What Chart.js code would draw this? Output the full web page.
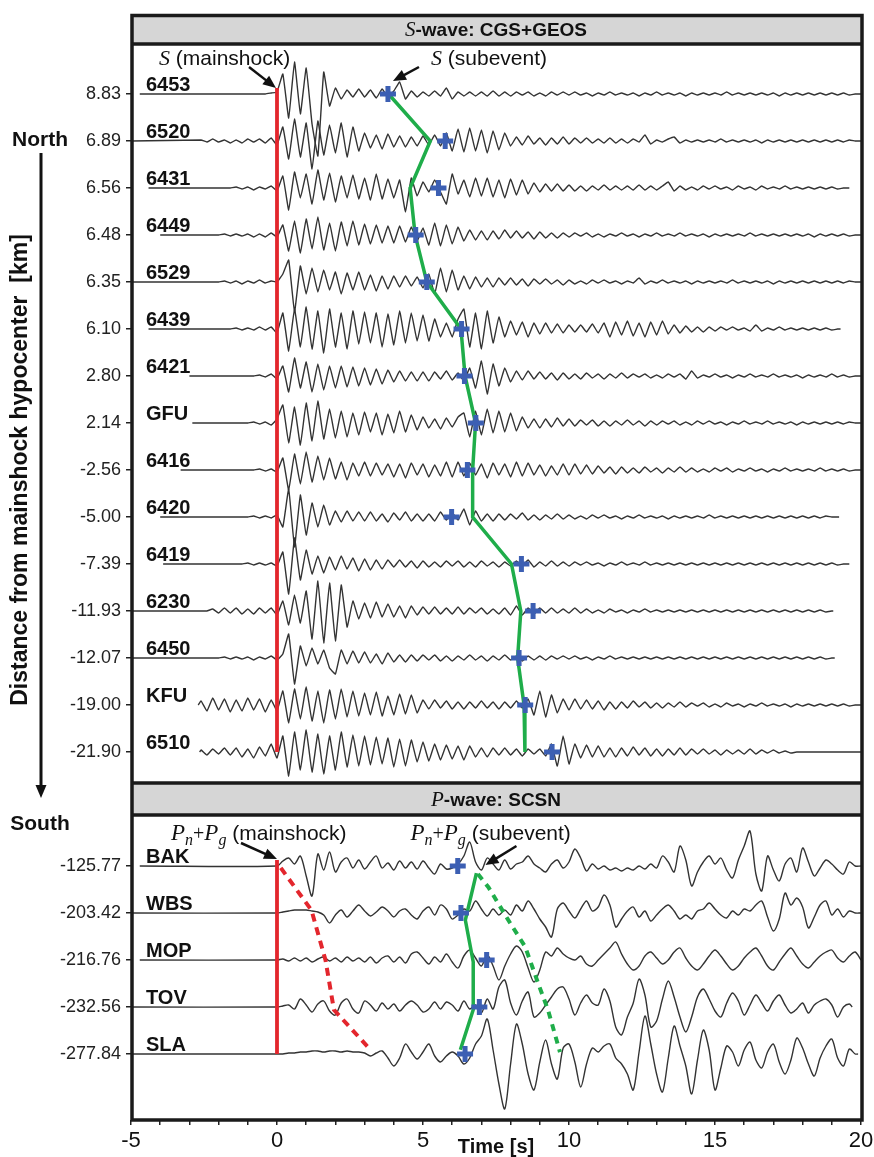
<!DOCTYPE html>
<html>
<head>
<meta charset="utf-8">
<script src="https://cdn.jsdelivr.net/npm/chart.js@4.4.0/dist/chart.umd.min.js"></script>
<style>
  html, body { margin: 0; padding: 0; background: #fff; }
  #wrap { width: 874px; height: 1157px; position: relative; }
</style>
</head>
<body>
<div id="wrap"><canvas id="seis" width="874" height="1157"></canvas></div>
<script>
// stations, north to south, and distance from mainshock hypocenter [km]
var stationsS = ['6453', '6520', '6431', '6449', '6529', '6439', '6421', 'GFU', '6416', '6420', '6419', '6230', '6450', 'KFU', '6510'];
var distS = ['8.83', '6.89', '6.56', '6.48', '6.35', '6.10', '2.80', '2.14', '-2.56', '-5.00', '-7.39', '-11.93', '-12.07', '-19.00', '-21.90'];
var stationsP = ['BAK', 'WBS', 'MOP', 'TOV', 'SLA'];
var distP = ['-125.77', '-203.42', '-216.76', '-232.56', '-277.84'];

// picks [s]
var pickS = [3.8, 5.76, 5.53, 4.75, 5.13, 6.32, 6.42, 6.81, 6.52, 5.98, 8.37, 8.77, 8.29, 8.5, 9.42];
var lineS = [3.82, 5.25, 4.56, 4.73, 5.13, 6.3, 6.44, 6.8, 6.7, 6.7, 8.03, 8.35, 8.24, 8.46, 8.49];
var pickP = [6.19, 6.3, 7.18, 6.93, 6.44];
var lineP = [6.83, 6.45, 6.72, 6.72, 6.28];
var linePRow = [0.15, 1.15, 2.04, 3.06, 3.91];
var dashGreenT = [6.88, 7.24, 7.92, 8.5, 8.94, 9.28, 9.69];
var dashGreenRow = [0.17, 0.45, 1.15, 1.72, 2.49, 3.06, 3.96];
var dashRedT = [0.13, 1.18, 1.66, 1.95, 3.2];
var dashRedRow = [0.04, 0.94, 2.0, 3.06, 3.91];

// trace extents [s]
var startS = [-4.7, -5.0, -4.4, -4.0, -5.0, -4.4, -3.0, -2.9, -3.3, -4.0, -3.9, -5.0, -5.0, -2.7, -2.65];
var endS = [20, 20, 19.6, 20, 20, 19.3, 20, 20, 20, 19.25, 19.6, 19.05, 19.1, 20, 20];
var startP = [-4.7, -5.0, -4.7, -5.0, -5.0];
var endP = [20, 20, 20, 19.7, 19.9];

// S-wave amplitudes, every 0.2 s from -2.6 s
var w6453 = [0,0,0,0,0,0,0,0,0,0,0,0,1, 2,20,-24,32,-20, 26,-30,-62,22,-12, 6,-5,4,-3,5, -3,4,-4,5,-3, 3,12,-5,3,-3, 2,-2,3,-2,6, -5,2,-2,2,-2, 2,-2,3,-2,2, -2,2,-1,2,-2, 1,-2,2,-1,2, -1,2,-1,1,-2, 1,-1,2,-1,1, -1,1,-2,1,-1, 2,-1,1,-1,1, -2,1,-1,1,-1, 1,-1,2,-1,1, -1,1,-1,1,-1, 1,-2,1,-1,1, -1,1,-1,1,-1, 1,-1,1,-1,0];
var w6520 = [1,-1,2,-1,1,-2,1,-2,2,-1,2,-2,3, -4,14,-18,22,-16, 18,-28,20,-14,16, -12,18,-16,14,-10, 8,-7,6,-8,7, -6,5,-6,4,-5, 5,-4,6,-5,8, -10,12,-11,13,-10, 11,-12,10,-9,8, -5,4,-4,5,-3, 3,-4,3,-3,4, -3,3,-2,3,-2, 2,-2,3,-2,2, -2,2,-1,6,-3, 1,-1,2,4,-2, 1,-1,1,-1,1, -1,2,-1,1,-1, 1,-1,1,-2,1, -1,1,-1,1,-1, 1,-1,1,-1,1, -1,1,-1,1,0];
var w6431 = [0,0,0,0,0,0,1,-1,1,-2,1,-1,2, -3,12,-22,16,-10, 14,-16,18,-12,15, -14,12,-10,13,-11, 10,-12,14,-11,9, -10,8,-24,10,-8, 6,-4,8,-4,-16, 14,-6,8,-9,10, -8,10,-9,8,-10, 9,-7,8,-6,5, -4,4,-3,4,-3, 3,-3,2,-3,2, -2,3,-2,2,-2, 2,-2,3,-2,2, -2,2,6,-3,2, -2,1,-2,2,-1, 2,-1,1,-2,2, -1,1,-2,2,-1, 1,-1,2,-1,1, -1,1,-1,1,-1, 1,-1,0];
var w6449 = [0,0,0,0,1,-1,1,-1,1,-2,1,-2,2, -2,10,-16,14,-18, 16,-14,18,-15,12, -16,13,-11,14,-10, 11,-9,10,-8,9, -8,9,-7,8,-6, 7,-10,12,-11,10, -9,8,-6,5,-5, 4,-5,4,-4,5, -3,4,-3,3,-4, 3,-3,2,-3,2, -2,2,-1,2,-2, 1,-2,1,-1,2, -1,1,-2,1,-1, 2,-1,1,-1,2, -1,1,-1,1,-2, 1,-1,1,-1,1, -1,2,-1,1,-1, 1,-1,1,-1,1, -1,1,-2,1,-1, 1,-1,1,-1,0];
var w6529 = [0,0,0,0,1,-1,1,-2,1,-1,2,-1,1, 0,8,22,-30,16, -12,14,-10,12,-8, 10,-12,9,-8,10, -8,7,-9,6,-7, 6,-5,6,-4,5, -6,8,-12,14,-10, 12,-8,6,-7,5, -5,4,-5,4,-3, 4,-3,3,-4,3, -2,3,-2,2,-3, 2,-2,1,-2,2, -1,2,-1,1,-2, 1,-1,4,-2,1, -1,2,-1,1,-1, 1,-2,1,-1,1, -1,1,-1,2,-1, 1,-1,1,-1,1, -2,1,-1,1,-1, 1,-1,1,-1,1, -1,1,-1,1,0];
var w6439 = [0,0,0,0,0,0,1,-1,1,-1,2,-1,2, -4,16,-22,20,-18, 22,-20,18,-24,20, -18,16,-20,18,-15, 17,-14,16,-18,15, -16,18,-14,16,-12, 14,-12,10,-8,6, -8,10,20,-18,16, -20,18,-14,12,-8, 8,-6,7,-8,6, -5,6,-4,5,-4, 4,-3,4,-3,5, -4,6,-8,7,-6, 8,-7,6,-8,7, -6,8,-5,4,-4, 3,-3,2,-3,2, -2,2,-1,2,-1, 1,-2,4,-2,1, -1,2,-1,1,-1, 1,-1,1,-1,1, -1,0];
var w6421 = [0,0,0,0,0,0,0,0,0,0,1,-1,2, -3,10,-16,18,-12, 14,-16,12,-14,10, -12,10,-11,9,-10, 8,-9,7,-8,6, -6,5,-5,4,-5, 4,-5,4,-3,5, -4,3,-5,8,-12, 15,-18,12,-10,8, -6,5,-4,5,-3, 4,-3,3,-4,3, -3,2,-3,3,-2, 2,-3,2,-2,3, -2,2,-1,2,-2, 1,-2,2,-1,2, -3,5,-2,1,-1, 2,-1,1,-2,1, -1,2,-1,1,-1, 2,-1,1,-1,1, -2,1,-1,1,-1, 2,-1,1,-1,0];
var wGFU = [0,0,0,0,0,0,0,0,0,1,-1,1,-2, 4,18,-20,16,-22, 20,-18,22,-16,14, -15,12,-14,10,-12, 11,-9,10,-12,9, -10,12,-9,8,-7, 6,-5,4,-6,5, -4,6,10,-14,12, -12,14,-10,12,-9, 10,-8,6,-5,4, -5,4,-4,5,-3, 4,-3,3,-2,3, -3,2,-3,2,-2, 3,-2,2,-3,2, -2,2,-1,2,-2, 1,-2,2,-1,2, -1,1,-2,1,-1, 2,-1,1,-1,2, -1,1,-1,1,-2, 1,-1,1,-1,1, -1,1,-1,1,0];
var w6416 = [0,0,0,0,0,0,0,0,0,0,1,-1,1, -2,12,-20,16,-14, 18,-12,14,-10,12, -9,8,-10,7,-6, 8,-6,7,-5,6, -7,6,-8,7,-5, 6,-7,5,-6,8, -7,8,-6,7,-5, 6,-8,7,-5,6, -7,8,-6,7,-5, 5,-6,4,-5,6, -5,6,-4,5,-4, 4,-3,3,-4,3, -3,2,-3,3,-2, 2,-3,2,-2,3, -2,2,-2,1,-2, 2,-1,2,-2,1, -1,2,-1,1,-2, 1,-1,2,-1,1, -1,1,-1,2,-1, 1,-1,1,-1,0];
var w6420 = [0,0,0,0,0,0,0,0,0,1,-1,1,-1, 2,-10,28,-30,22, -18,14,-10,12,-8, 6,-5,6,-4,5, -4,5,-4,3,-5, 4,-3,5,-4,3, -4,3,-4,5,-3, 4,-3,8,-8,6, -4,3,-4,3,-3, 3,-2,4,-3,2, -3,2,-2,3,-2, 2,-2,1,-2,2, -1,2,-1,1,-2, 1,-1,2,-1,1, -1,1,-2,1,-1, 1,-1,1,-1,2, -1,1,-1,1,-1, 1,-1,1,-1,1, -1,1,-1,1,-1, 1,-1,1,-1,1, 0];
var w6419 = [0,0,0,0,0,0,0,0,1,-1,1,-1,1, -2,12,-30,26,-16, 14,-10,8,-9,7, -6,8,-5,6,-7, 5,-6,4,-5,4, -3,4,-3,3,-4, 3,-3,2,-3,3, -2,3,-3,2,-3, 3,-2,2,-3,2, -2,3,-2,4,-3, 2,-2,3,-2,2, -2,2,-1,2,-1, 1,-2,1,-1,2, -1,1,-1,2,-1, 1,-1,1,-1,1, -1,1,-1,1,-1, 1,-1,1,-1,1, -1,1,-1,1,-1, 1,-1,1,-1,1, -1,1,-1,1,-1, 1,-1,0];
var w6230 = [0,0,2,-2,3,-2,3,-3,2,-3,3,-2,3, -4,10,-14,16,-12, 20,-28,30,-32,28, -30,26,-16,10,-8, 8,-7,9,-6,7, -6,5,-7,5,-4, 4,-3,4,-3,3, -3,4,-3,3,-2, 3,-3,2,-3,3, -4,5,-4,3,-3, 3,-2,3,-2,2, -2,3,-2,2,-2, 1,-2,2,-1,1, -2,1,-1,2,-1, 1,-1,1,-1,1, -1,1,-1,1,-1, 1,-1,1,-1,1, -1,1,-1,1,-1, 1,-1,1,-1,1, -1,1,-1,1,-1, 0];
var w6450 = [0,0,0,0,1,-1,1,-1,1,-2,1,-1,2, -2,4,24,-26,12, -8,10,-6,8,-10, -16,8,-6,7,-5, 6,-5,4,-6,5, -4,3,-4,3,-3, 3,-2,3,-3,2, -3,2,-2,3,-2, 2,-3,2,-2,3, -2,2,-3,2,-2, 2,-2,2,-1,2, -1,2,-1,1,-2, 1,-1,2,-1,1, -1,1,-1,1,-1, 1,-1,1,-1,1, -1,1,-1,1,-1, 1,-1,1,-1,1, -1,1,-1,1,-1, 1,-1,1,-1,1, -1,1,-1,1,-1, 0];
var wKFU = [4,-6,7,-5,6,-7,5,-6,7,-5,6,-7,5, -6,14,-18,16,-14, 18,-16,14,-18,15, -14,16,-12,14,-11, 12,-10,13,-11,9, -10,11,-9,10,-8, 5,-4,5,-3,4, -4,3,-4,3,-3, 4,-3,3,-4,3, -3,4,-3,6,-10, 14,-12,10,-8,6, -5,6,-4,5,-4, 4,-5,3,-4,3, -3,4,-2,3,-3, 2,-3,2,-2,3, -2,2,-1,2,-2, 1,-2,2,-1,1, -2,1,-1,2,-1, 1,-1,1,-2,1, -1,1,-1,1,-1, 1,-1,1,-1,0];
var w6510 = [2,-3,3,-2,4,-3,4,-5,3,-6,5,-4,8, -6,16,-24,20,-18, 22,-20,18,-22,16, -18,20,-15,17,-14, 16,-13,15,-12,14, -15,13,-14,12,-10, 10,-9,8,-8,7, -7,6,-8,6,-5, 4,-5,4,-3,4, -3,3,-4,3,-2, 3,-4,8,-14,16, -12,8,-6,7,-5, 6,-5,4,-5,4, -4,5,-3,4,-4, 3,-4,3,-3,4, -3,3,-2,3,-2, 2,-3,2,-2,2, -2,3,-2,2,-1, 2,-1,1,-1,0];

// P-wave amplitudes, every 0.2 s from 0 s
var wBAK = [0,5,8,2,10, -10,-30,12,-4,14, -6,4,8,-2,6, -3,4,10,-2,3, -4,5,-2,4,-3, 5,-2,-8,2,-3, -2,2,10,24,4, -4,8,2,-4,6, -3,2,4,10,2, -2,-6,2,6,-2, 4,17,8,-5,2, -3,0,-4,-2,-5, -2,-4,0,-3,2, -2,10,4,-6,20, 6,-20,-6,4,10, 2,8,-4,-12,6, 20,35,-8,-25,10, -4,-15,2,8,-6, 18,4,-10,-2,6, 2,-4,-8,4,0];
var wWBS = [0,1,2,3,3, 3,2,1,-2,-10, -2,3,-4,2,8, 2,-3,1,6,2, -4,2,4,-2,-6, 2,6,-2,8,4, -6,-2,4,2,12, 4,-3,4,-2,3, -2,8,2,12,4, -6,-14,-24,4,10, 2,-5,4,12,2, 6,18,8,-14,-6, 2,6,-4,2,-8, -2,4,8,2,-6, -2,-6,2,4,10, 4,-2,-5,2,-2, 4,2,8,12,-4, -18,-6,20,8,15, 6,-15,-4,8,12, -2,4,-4,2,0];
var wMOP = [0,1,-1,2,-1, 2,-2,1,3,-1, 2,-2,3,-1,2, -2,3,-3,2,4, -2,3,-3,6,8, 2,-4,3,-2,6, -2,-8,4,10,2, -6,5,-6,-20,-6, 6,14,8,-8,-22, -10,8,4,12,6, 2,0,4,-4,-6, 0,6,12,18,6, -4,-10,-6,4,8, 2,-4,0,8,12, 2,-6,-10,-4,4, 10,4,-4,-10,-6, 2,8,12,4,-6, -10,-2,6,12,4, -4,-8,-2,4,8, 10,2,-2,4,8];
var wTOV = [0,1,2,-2,8, 2,-5,3,6,-4, -8,4,8,-2,-6, 6,2,-4,4,-2, 3,-4,2,6,2, -5,-2,5,-2,5, 2,-4,6,-2,2, -6,8,-2,20,27, 4,-8,6,15,-10, -6,2,10,18,20, 8,-8,4,12,4, 2,18,6,-20,-28, -10,4,28,12,-20, -14,8,26,10,-10, -25,-10,10,18,8, -4,-10,4,14,6, -8,2,12,4,-4, 6,12,2,-6,-2, 4,-6,2,6,8, 2,-10,0,3];
var wSLA = [0,0,1,1,2, 2,3,3,2,3, 3,2,3,2,2, 1,-2,1,3,-4, -12,-4,10,2,-5, 2,10,-2,-8,-2, 2,-2,-10,-4,10, 18,35,4,-30,-55, -10,30,10,-20,-36, -8,14,-10,-25,6, 10,-8,-33,-10,6, 2,8,10,-4,-10, -20,-36,2,38,10, -20,-38,-4,28,8, -12,-40,-6,24,4, -36,-14,8,2,-12, 4,12,-6,-14,2, 10,-8,-20,-6,16, 6,-10,-22,-4,8, 15,-4,-12,5,0];

var wavesS = [w6453, w6520, w6431, w6449, w6529, w6439, w6421, wGFU, w6416, w6420, w6419, w6230, w6450, wKFU, w6510];
var wavesP = [wBAK, wWBS, wMOP, wTOV, wSLA];

var dt = 0.2;
var rowGap = 47;                         // px between trace baselines
var pOffset = (866 - 94) / rowGap;       // first P row, in row units
var yMin = -50 / rowGap, yMax = (1120 - 94) / rowGap;

var sans = '"Liberation Sans", Arial, Helvetica, sans-serif';
var serif = '"Liberation Serif", "Times New Roman", serif';
var red = '#e3262d', green = '#1fad4a', blue = '#3c5fb3', ink = '#333333';

Chart.defaults.font.family = sans;

function traceData(row, start, t0, vals, end) {
    var pts = [{ x: start, y: row }];
    for (var k = 0; k < vals.length; k++) {
        pts.push({ x: t0 + k * dt, y: row - vals[k] / rowGap });
    }
    if (end > t0 + (vals.length - 1) * dt) pts.push({ x: end, y: row });
    return pts;
}

var datasets = [];

// picks
var crosses = [];
pickS.forEach(function (t, i) { crosses.push({ x: t, y: i }); });
pickP.forEach(function (t, j) { crosses.push({ x: t, y: pOffset + j }); });
datasets.push({ data: crosses, showLine: false, pointStyle: 'cross', pointRadius: 8,
    pointBorderWidth: 5, pointBorderColor: blue, borderColor: blue, order: 0 });

// green pick lines
datasets.push({ data: lineS.map(function (t, i) { return { x: t, y: i }; }),
    borderColor: green, borderWidth: 3.5, pointRadius: 0, order: 1 });
datasets.push({ data: lineP.map(function (t, j) { return { x: t, y: pOffset + linePRow[j] }; }),
    borderColor: green, borderWidth: 3.5, pointRadius: 0, order: 1 });
datasets.push({ data: dashGreenT.map(function (t, j) { return { x: t, y: pOffset + dashGreenRow[j] }; }),
    borderColor: green, borderWidth: 4, borderDash: [7, 6], pointRadius: 0, order: 1 });

// mainshock onset
datasets.push({ data: [{ x: 0, y: -0.13 }, { x: 0, y: 14 }], borderColor: red, borderWidth: 3.8, pointRadius: 0, order: 1 });
datasets.push({ data: [{ x: 0, y: pOffset - 0.13 }, { x: 0, y: pOffset + 4 }], borderColor: red, borderWidth: 3.8, pointRadius: 0, order: 1 });
datasets.push({ data: dashRedT.map(function (t, j) { return { x: t, y: pOffset + dashRedRow[j] }; }),
    borderColor: red, borderWidth: 4, borderDash: [8, 6], pointRadius: 0, order: 1 });

// seismograms
wavesS.forEach(function (w, i) {
    datasets.push({ data: traceData(i, startS[i], -2.6, w, endS[i]), borderColor: ink,
        borderWidth: 1.4, pointRadius: 0, tension: 0.1, order: 2 });
});
wavesP.forEach(function (w, j) {
    datasets.push({ data: traceData(pOffset + j, startP[j], 0, w, endP[j]), borderColor: ink,
        borderWidth: 1.4, pointRadius: 0, tension: 0.3, order: 2 });
});

var rowTicks = stationsS.map(function (s, i) { return i; })
    .concat(stationsP.map(function (s, j) { return pOffset + j; }));
var rowLabels = distS.concat(distP);

function drawParts(ctx, parts, x, y, center) {
    var w = 0;
    parts.forEach(function (p) { ctx.font = p.font; w += ctx.measureText(p.text).width; });
    var cx = center ? x - w / 2 : x;
    parts.forEach(function (p) {
        ctx.font = p.font;
        ctx.fillText(p.text, cx, y + (p.dy || 0));
        cx += ctx.measureText(p.text).width;
    });
}

function arrow(ctx, x1, y1, x2, y2) {
    var a = Math.atan2(y2 - y1, x2 - x1), hl = 13, hw = 5.5;
    var c = Math.cos(a), s = Math.sin(a);
    ctx.beginPath();
    ctx.moveTo(x1, y1);
    ctx.lineTo(x2 - hl * 0.8 * c, y2 - hl * 0.8 * s);
    ctx.stroke();
    ctx.beginPath();
    ctx.moveTo(x2, y2);
    ctx.lineTo(x2 - hl * c + hw * s, y2 - hl * s - hw * c);
    ctx.lineTo(x2 - hl * c - hw * s, y2 - hl * s + hw * c);
    ctx.closePath();
    ctx.fill();
}

var decor = {
    id: 'decor',
    afterDatasetsDraw: function (chart) {
        var ctx = chart.ctx, a = chart.chartArea;
        var xs = chart.scales.x, ys = chart.scales.y;
        var L = a.left, R = a.right;
        var split = 783, pHead = 815, sHead = 14;
        ctx.save();

        // header bands
        ctx.fillStyle = '#d6d6d6';
        ctx.fillRect(L, sHead, R - L, a.top - sHead);
        ctx.fillRect(L, split, R - L, pHead - split);

        // frames
        ctx.strokeStyle = '#1a1a1a';
        ctx.lineWidth = 3.5;
        ctx.strokeRect(L + 1, sHead + 1.5, R - L, a.bottom - sHead - 1.5);
        [a.top, split, pHead].forEach(function (y) {
            ctx.beginPath(); ctx.moveTo(L, y); ctx.lineTo(R + 1, y); ctx.stroke();
        });

        // header titles
        ctx.fillStyle = '#111';
        ctx.textAlign = 'left';
        ctx.textBaseline = 'alphabetic';
        drawParts(ctx, [{ text: 'S', font: 'italic 21px ' + serif }, { text: '-wave: CGS+GEOS', font: 'bold 19px ' + sans }],
            (L + R) / 2, 36, true);
        drawParts(ctx, [{ text: 'P', font: 'italic 21px ' + serif }, { text: '-wave: SCSN', font: 'bold 19px ' + sans }],
            (L + R) / 2, 806, true);

        // station names
        ctx.font = 'bold 20px ' + sans;
        stationsS.forEach(function (s, i) { ctx.fillText(s, L + 15, ys.getPixelForValue(i) - 3); });
        stationsP.forEach(function (s, j) { ctx.fillText(s, L + 15, ys.getPixelForValue(pOffset + j) - 3); });

        // annotations
        var x0 = xs.getPixelForValue(0);
        var yTop = ys.getPixelForValue(0);
        var yP = ys.getPixelForValue(pOffset);
        drawParts(ctx, [{ text: 'S', font: 'italic 22px ' + serif }, { text: ' (mainshock)', font: '21px ' + sans }], x0 - 118, yTop - 29);
        drawParts(ctx, [{ text: 'S', font: 'italic 22px ' + serif }, { text: ' (subevent)', font: '21px ' + sans }],
            xs.getPixelForValue(pickS[0]) + 43, yTop - 29);
        var pn = function (label) {
            return [{ text: 'P', font: 'italic 23px ' + serif }, { text: 'n', font: 'italic 16px ' + serif, dy: 5 },
                { text: '+', font: '20px ' + serif }, { text: 'P', font: 'italic 23px ' + serif },
                { text: 'g', font: 'italic 16px ' + serif, dy: 5 }, { text: label, font: '21px ' + sans }];
        };
        drawParts(ctx, pn(' (mainshock)'), x0 - 106, yP - 26);
        drawParts(ctx, pn(' (subevent)'), xs.getPixelForValue(lineP[0]) - 66, yP - 26);

        ctx.strokeStyle = '#111';
        ctx.lineWidth = 2.5;
        arrow(ctx, x0 - 28, yTop - 27, x0 - 1, yTop - 6);
        arrow(ctx, xs.getPixelForValue(pickS[0]) + 31, yTop - 27, xs.getPixelForValue(pickS[0]) + 5, yTop - 13);
        arrow(ctx, x0 - 36, yP - 23, x0, yP - 7);
        arrow(ctx, xs.getPixelForValue(lineP[0]) + 40, yP - 20, xs.getPixelForValue(lineP[0]) + 9, yP - 1);

        // north / south axis on the left
        ctx.fillStyle = '#111';
        ctx.font = 'bold 21px ' + sans;
        ctx.textAlign = 'center';
        ctx.fillText('North', 40, 146);
        ctx.fillText('South', 40, 830);
        ctx.lineWidth = 3;
        arrow(ctx, 41, 153, 41, 798);
        ctx.save();
        ctx.translate(27, 470);
        ctx.rotate(-Math.PI / 2);
        ctx.font = 'bold 23px ' + sans;
        ctx.fillText('Distance from mainshock hypocenter  [km]', 0, 0);
        ctx.restore();

        ctx.restore();
    }
};

new Chart(document.getElementById('seis'), {
    type: 'line',
    data: { datasets: datasets },
    options: {
        responsive: false,
        animation: false,
        events: [],
        layout: { padding: { top: 44, right: 10, left: 0, bottom: 0 } },
        plugins: { legend: { display: false }, tooltip: { enabled: false } },
        scales: {
            x: {
                type: 'linear',
                min: -5,
                max: 20,
                afterFit: function (s) { s.height = 37; s.paddingLeft = 0; s.paddingRight = 0; },
                ticks: {
                    stepSize: 1,
                    autoSkip: false,
                    maxRotation: 0,
                    padding: 3,
                    color: '#111',
                    font: { family: '"Liberation Sans Narrow", "Liberation Sans", Arial, sans-serif', size: 22 },
                    callback: function (v) { return v % 5 === 0 ? String(v) : ''; }
                },
                grid: { drawOnChartArea: false, drawTicks: true, tickLength: 5, color: '#222', lineWidth: 1.5 },
                border: { display: false },
                title: { display: true, text: 'Time [s]', color: '#111', padding: 0,
                    font: { size: 20, weight: 'bold', lineHeight: 1 } }
            },
            y: {
                type: 'linear',
                reverse: true,
                min: yMin,
                max: yMax,
                afterFit: function (s) { s.width = 131; s.paddingTop = 0; s.paddingBottom = 0; },
                afterBuildTicks: function (s) { s.ticks = rowTicks.map(function (v) { return { value: v }; }); },
                ticks: {
                    padding: 5,
                    color: '#222',
                    font: { size: 18 },
                    callback: function (v, i) { return rowLabels[i]; }
                },
                grid: { drawOnChartArea: false, drawTicks: true, tickLength: 5, color: '#222', lineWidth: 1.5 },
                border: { display: false }
            }
        }
    },
    plugins: [decor]
});
</script>
</body>
</html>
